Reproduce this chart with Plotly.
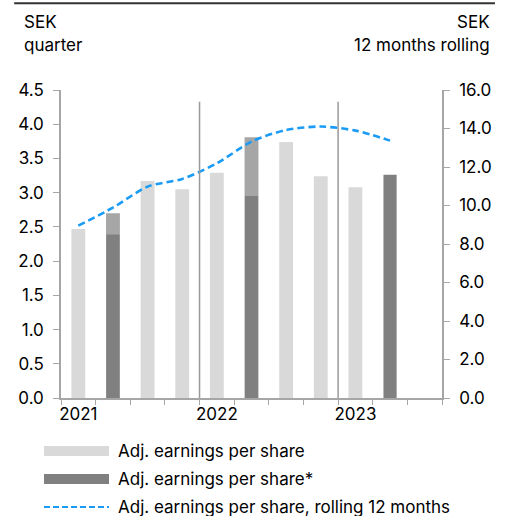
import plotly.graph_objects as go

quarters = ["Q1 2021", "Q2 2021", "Q3 2021", "Q4 2021",
            "Q1 2022", "Q2 2022", "Q3 2022", "Q4 2022",
            "Q1 2023", "Q2 2023"]
eps_adj = [2.47, 2.70, 3.17, 3.05, 3.29, 3.81, 3.74, 3.24, 3.08, None]
eps_adj_star = [None, 2.39, None, None, None, 2.95, None, None, None, 3.26]
eps_rolling = [8.95, 9.89, 10.98, 11.38, 12.19, 13.32, 13.92, 14.10, 13.89, 13.37]
year_labels = ["2021", "2022", "2023"]
year_positions = [0, 4, 8]

LIGHT = "#d9d9d9"
MID = "#a6a6a6"
DARK = "#808080"
BLUE = "#1a9bf5"
FONT = "Inter"
FS = 17

x = list(range(len(quarters)))
light_colors = [MID if d is not None and v is not None else LIGHT
                for v, d in zip(eps_adj, eps_adj_star)]

fig = go.Figure()
fig.add_trace(go.Bar(x=x, y=eps_adj, width=0.4, marker_color=light_colors,
                     marker_line_width=0, name="Adj. earnings per share",
                     showlegend=False, hovertext=quarters))
fig.add_trace(go.Bar(x=x, y=eps_adj_star, width=0.38, marker_color=DARK,
                     marker_line_width=0, name="Adj. earnings per share*",
                     showlegend=False, hovertext=quarters))
fig.add_trace(go.Scatter(x=x, y=eps_rolling, yaxis="y2", mode="lines",
                         line=dict(color=BLUE, width=2.6, dash="7px,4px", shape="spline", smoothing=0.8),
                         name="Adj. earnings per share, rolling 12 months",
                         showlegend=False, hovertext=quarters))

n = len(quarters) + 1
boundaries = [i - 0.5 for i in range(n + 1)]

axis_common = dict(showgrid=False, zeroline=False, showline=True, linecolor="#a6a6a6",
                   linewidth=1.5, tickfont=dict(size=FS))

fig.update_layout(
    width=508, height=516,
    margin=dict(l=61, r=66, t=90, b=118),
    paper_bgcolor="white", plot_bgcolor="white",
    barmode="overlay",
    font=dict(family=FONT, size=FS, color="#000000"),
    xaxis=dict(range=[-0.5, n - 0.5], tickvals=year_positions, ticktext=year_labels,
               ticks="",
               minor=dict(tickvals=boundaries, ticks="outside", ticklen=5,
                          tickcolor="#a6a6a6", tickwidth=1.2, showgrid=False),
               **axis_common),
    yaxis=dict(range=[0, 4.5], dtick=0.5, tickformat=".1f",
               ticks="outside", ticklen=6, tickcolor="#a6a6a6", tickwidth=1.2,
               ticklabelstandoff=6, **axis_common),
    yaxis2=dict(range=[0, 16], dtick=2, tickformat=".1f", overlaying="y", side="right",
                ticks="outside", ticklen=6, tickcolor="#a6a6a6", tickwidth=1.2,
                ticklabelstandoff=6, **axis_common),
)

# Year separators
for xb in [3.5, 7.5]:
    fig.add_shape(type="line", xref="x", yref="y", x0=xb, x1=xb, y0=0, y1=4.33,
                  line=dict(color="#999999", width=1.5))

# Top border
fig.add_shape(type="line", xref="paper", yref="paper", x0=-0.123, x1=1.139,
              y0=1.282, y1=1.282, line=dict(color="#333333", width=2))

# Axis titles
for txt, xx, yy, anc in [("SEK", -0.102, 1.221, "left"), ("quarter", -0.102, 1.146, "left"),
                         ("SEK", 1.131, 1.221, "right"), ("12 months rolling", 1.131, 1.146, "right")]:
    fig.add_annotation(xref="paper", yref="paper", x=xx, y=yy, text=txt,
                       showarrow=False, xanchor=anc, yanchor="middle", font=dict(size=FS))

# Custom legend
leg_x0, leg_x1, txt_x = -0.0446, 0.126, 0.1444
leg_items = [
    ("Adj. earnings per share", LIGHT, "bar", -0.172),
    ("Adj. earnings per share*", DARK, "bar", -0.263),
    ("Adj. earnings per share, rolling 12 months", BLUE, "line", -0.354),
]
for label, col, kind, yc in leg_items:
    if kind == "bar":
        fig.add_shape(type="rect", xref="paper", yref="paper", x0=leg_x0, x1=leg_x1,
                      y0=yc - 0.016, y1=yc + 0.016, fillcolor=col, line_width=0)
    else:
        fig.add_shape(type="line", xref="paper", yref="paper", x0=leg_x0, x1=leg_x1,
                      y0=yc, y1=yc, line=dict(color=col, width=2, dash="6px,3px"))
    fig.add_annotation(xref="paper", yref="paper", x=txt_x, y=yc, text=label,
                       showarrow=False, xanchor="left", yanchor="middle", font=dict(size=FS))

fig.write_html("out.html", config={"displayModeBar": False},
               post_script="document.body.style.margin='0';document.body.style.overflow='hidden';")
